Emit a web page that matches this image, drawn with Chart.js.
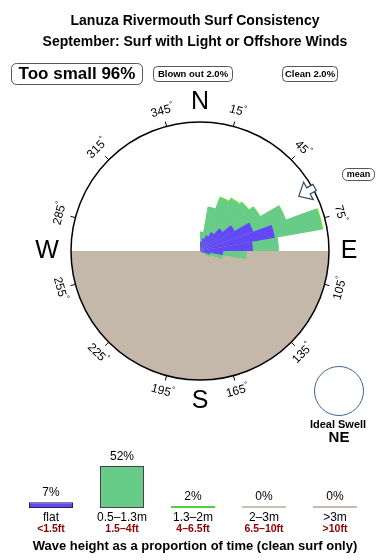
<!DOCTYPE html>
<html>
<head>
<meta charset="utf-8">
<script src="https://cdn.jsdelivr.net/npm/chart.js@4.4.1/dist/chart.umd.min.js"></script>
<style>
  html, body { margin: 0; padding: 0; background: #fff; }
  #wrap { position: relative; width: 390px; height: 560px; overflow: hidden; }
  #rose { position: absolute; left: 0; top: 0; }
  #heights { position: absolute; left: 0; top: 440px; }
</style>
</head>
<body>
<div id="wrap">
  <canvas id="rose" width="390" height="560"></canvas>
  <canvas id="heights" width="390" height="120"></canvas>
</div>
<script>
// swell rose, 10 degree bins (centre of bin), % of the rose radius
const roseDirs  = [5, 15, 25, 35, 45, 55, 65, 75, 85, 95, 105, 115];
const flatRose  = [7, 10, 13, 17, 23, 31, 44, 59, 41, 18, 8, 3];
const smallRose = [8, 25, 30.5, 29.5, 26, 22, 26.5, 36.5, 20, 18, 10, 6];
const midRose   = [0, 0, 1.5, 1.5, 1, 1, 0.5, 1.5, 0, 0, 0, 0];

// wave height legend
const heightClasses = ['flat', '0.5–1.3m', '1.3–2m', '2–3m', '>3m'];
const heightFeet    = ['<1.5ft', '1.5–4ft', '4–6.5ft', '6.5–10ft', '>10ft'];
const heightPct     = [7, 52, 2, 0, 0];

const compassTicks = [15, 45, 75, 105, 135, 165, 195, 225, 255, 285, 315, 345];
const meanDir = 61;
const idealSwell = 'NE';
const tooSmall = 96, blownOut = 2.0, clean = 2.0;

const FONT = '"Liberation Sans", Arial, sans-serif';

// spread the bins over the full ring of 36
function ring(vals) {
  const out = new Array(36).fill(0);
  roseDirs.forEach((d, i) => { out[Math.floor(d / 10)] = vals[i]; });
  return out;
}
const ringLabels = Array.from({ length: 36 }, (_, i) => (i * 10 + 5) + '°');
const flatRing = ring(flatRose);
const smallRing = ring(smallRose).map((v, i) => v + flatRing[i]);
const midRing = ring(midRose).map((v, i) => v + smallRing[i]);

function pt(cx, cy, bearing, d) {
  const a = (bearing - 90) * Math.PI / 180;
  return [cx + d * Math.cos(a), cy + d * Math.sin(a)];
}

function box(ctx, x, y, w, h, r, text, font) {
  ctx.beginPath();
  ctx.roundRect(x, y, w, h, r);
  ctx.fillStyle = '#fff';
  ctx.fill();
  ctx.strokeStyle = '#555';
  ctx.lineWidth = 1;
  ctx.stroke();
  ctx.fillStyle = '#000';
  ctx.font = font;
  ctx.textAlign = 'center';
  ctx.textBaseline = 'middle';
  ctx.fillText(text, x + w / 2, y + h / 2 + 0.5);
}

const rosePlugin = {
  id: 'rosePlugin',
  beforeDatasetsDraw(chart) {
    const { ctx } = chart;
    const s = chart.scales.r;
    const cx = s.xCenter, cy = s.yCenter, R = s.drawingArea;
    // land
    ctx.save();
    ctx.beginPath();
    ctx.moveTo(cx + R, cy);
    ctx.arc(cx, cy, R, 0, Math.PI);
    ctx.closePath();
    ctx.fillStyle = '#c4b8ab';
    ctx.fill();
    ctx.restore();
  },
  afterDatasetsDraw(chart) {
    const { ctx } = chart;
    const s = chart.scales.r;
    const cx = s.xCenter, cy = s.yCenter, R = s.drawingArea;
    ctx.save();

    // outline
    ctx.beginPath();
    ctx.arc(cx, cy, R, 0, Math.PI * 2);
    ctx.strokeStyle = '#000';
    ctx.lineWidth = 1.5;
    ctx.stroke();

    // ticks and degree labels
    ctx.lineWidth = 1;
    compassTicks.forEach(b => {
      const [x1, y1] = pt(cx, cy, b, R);
      const [x2, y2] = pt(cx, cy, b, R + 5);
      ctx.beginPath();
      ctx.moveTo(x1, y1);
      ctx.lineTo(x2, y2);
      ctx.stroke();

      const [lx, ly] = pt(cx, cy, b, R + 16);
      const rot = ((b + 90) % 180) - 90;
      ctx.save();
      ctx.translate(lx, ly);
      ctx.rotate(rot * Math.PI / 180);
      ctx.font = '12px ' + FONT;
      const num = String(b);
      const w1 = ctx.measureText(num).width;
      ctx.font = '8px ' + FONT;
      const w2 = ctx.measureText('°').width;
      ctx.textAlign = 'left';
      ctx.textBaseline = 'middle';
      ctx.fillStyle = '#000';
      ctx.font = '12px ' + FONT;
      ctx.fillText(num, -(w1 + w2) / 2, 0);
      ctx.font = '8px ' + FONT;
      ctx.fillText('°', -(w1 + w2) / 2 + w1, -4);
      ctx.restore();
    });

    // compass letters
    ctx.font = '25px ' + FONT;
    ctx.textAlign = 'center';
    ctx.textBaseline = 'middle';
    ctx.fillStyle = '#000';
    ctx.fillText('N', cx, cy - 149);
    ctx.fillText('S', cx, cy + 150);
    ctx.fillText('E', cx + 149, cy);
    ctx.fillText('W', cx - 153, cy);

    // mean direction arrow, pointing in
    ctx.save();
    ctx.translate(cx, cy);
    ctx.rotate((meanDir - 90) * Math.PI / 180);
    ctx.beginPath();
    ctx.moveTo(113, 0);
    ctx.lineTo(124, -10);
    ctx.lineTo(124, -3.5);
    ctx.lineTo(131, -3.5);
    ctx.lineTo(131, 3.5);
    ctx.lineTo(124, 3.5);
    ctx.lineTo(124, 10);
    ctx.closePath();
    ctx.fillStyle = '#fff';
    ctx.fill();
    ctx.strokeStyle = '#2c4a66';
    ctx.lineWidth = 1.2;
    ctx.stroke();
    ctx.restore();

    ctx.restore();
  },
  afterDraw(chart) {
    const { ctx } = chart;
    ctx.save();
    ctx.fillStyle = '#000';
    ctx.textAlign = 'center';
    ctx.textBaseline = 'middle';
    ctx.font = 'bold 14px ' + FONT;
    ctx.fillText('Lanuza Rivermouth Surf Consistency', 195, 21);
    ctx.fillText('September: Surf with Light or Offshore Winds', 195, 42);

    box(ctx, 11.5, 63.5, 131, 21, 5, 'Too small ' + tooSmall + '%', 'bold 17px ' + FONT);
    box(ctx, 153.5, 66.5, 79, 15, 4, 'Blown out ' + blownOut.toFixed(1) + '%', 'bold 9.5px ' + FONT);
    box(ctx, 282.5, 66.5, 55, 15, 4, 'Clean ' + clean.toFixed(1) + '%', 'bold 9.5px ' + FONT);
    box(ctx, 342.5, 168.5, 32, 12, 5, 'mean', 'bold 9px ' + FONT);

    // ideal swell
    ctx.beginPath();
    ctx.arc(339, 391, 24.5, 0, Math.PI * 2);
    ctx.strokeStyle = '#3a6690';
    ctx.lineWidth = 1;
    ctx.stroke();
    ctx.fillStyle = '#000';
    ctx.textAlign = 'center';
    ctx.textBaseline = 'middle';
    ctx.font = 'bold 11px ' + FONT;
    ctx.fillText('Ideal Swell', 338, 425);
    ctx.font = 'bold 15px ' + FONT;
    ctx.fillText(idealSwell, 339, 438);
    ctx.restore();
  }
};

new Chart(document.getElementById('rose'), {
  type: 'polarArea',
  data: {
    labels: ringLabels,
    datasets: [
      { label: 'flat', data: flatRing, backgroundColor: '#6448f8' },
      { label: '0.5–1.3m', data: smallRing, backgroundColor: '#66cc88' },
      { label: '1.3–2m', data: midRing, backgroundColor: '#66dd44' }
    ]
  },
  options: {
    responsive: false,
    animation: false,
    elements: { arc: { borderWidth: 0 } },
    layout: { padding: { left: 71, right: 61, top: 122, bottom: 180 } },
    scales: {
      r: {
        min: 0,
        max: 100,
        startAngle: 0,
        ticks: { display: false },
        grid: { display: false },
        angleLines: { display: false },
        pointLabels: { display: false }
      }
    },
    plugins: { legend: { display: false }, tooltip: { enabled: false } }
  },
  plugins: [rosePlugin]
});

const heightLabels = {
  id: 'heightLabels',
  afterDatasetsDraw(chart) {
    const { ctx } = chart;
    const meta = chart.getDatasetMeta(0);
    ctx.save();
    ctx.textAlign = 'center';
    ctx.textBaseline = 'middle';
    meta.data.forEach((bar, i) => {
      ctx.fillStyle = '#000';
      ctx.font = '12px ' + FONT;
      ctx.fillText(heightPct[i] + '%', bar.x, bar.y - 9.5);
      ctx.fillText(heightClasses[i], bar.x, 78);
      ctx.fillStyle = '#8b0000';
      ctx.font = 'bold 10.5px ' + FONT;
      ctx.fillText(heightFeet[i], bar.x, 89);
    });
    ctx.fillStyle = '#000';
    ctx.font = 'bold 13px ' + FONT;
    ctx.fillText('Wave height as a proportion of time (clean surf only)', 195, 106);
    ctx.restore();
  }
};

new Chart(document.getElementById('heights'), {
  type: 'bar',
  data: {
    labels: heightClasses,
    datasets: [{
      data: heightPct,
      backgroundColor: ['#6448f8', '#66cc88', '#55cc44', '#c8bfb0', '#c8b8b0'],
      borderColor: ['#222244', '#444', '#55cc44', '#c8bfb0', '#c8b8b0'],
      borderWidth: [1, 1, 0, 0, 0],
      borderSkipped: false,
      barPercentage: 0.62,
      categoryPercentage: 1,
      minBarLength: 2
    }]
  },
  options: {
    responsive: false,
    animation: false,
    layout: { padding: { left: 15.5, right: 19.5, top: 26, bottom: 52 } },
    scales: {
      x: { display: false },
      y: { display: false, min: 0, max: 52 }
    },
    plugins: { legend: { display: false }, tooltip: { enabled: false } }
  },
  plugins: [heightLabels]
});
</script>
</body>
</html>
